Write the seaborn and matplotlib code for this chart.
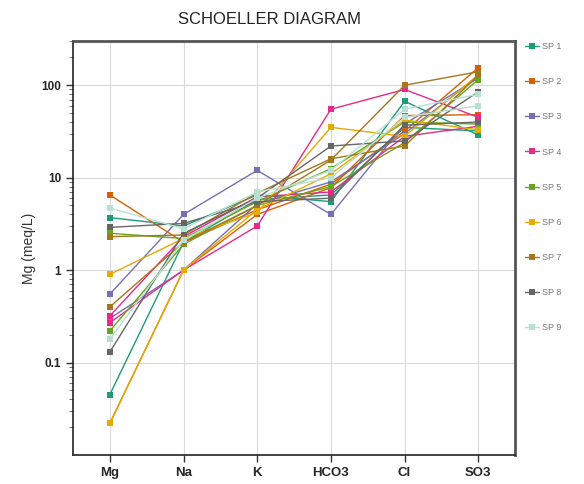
import matplotlib
matplotlib.use("Agg")
import matplotlib.pyplot as plt
import seaborn as sns
import pandas as pd

# ions on the x axis
ions = ["Mg", "Na", "K", "HCO3", "Cl", "SO3"]

# sampling points (two samples per site)
sites = ["SP1", "SP2", "SP3", "SP4", "SP5", "SP6", "SP7", "SP8", "SP9"]

# concentrations (meq/L), first sample of each site
mg_a = [3.7, 6.5, 0.55, 0.27, 2.5, 0.9, 0.4, 0.13, 4.7]
na_a = [3.0, 2.0, 4.0, 1.0, 2.2, 2.2, 2.0, 2.5, 2.8]
k_a = [6.5, 4.5, 12.0, 3.0, 5.5, 4.2, 5.0, 6.0, 7.0]
hco3_a = [5.5, 8.5, 4.0, 55.0, 12.5, 35.0, 15.5, 22.0, 10.0]
cl_a = [67.0, 32.0, 38.0, 90.0, 40.0, 28.0, 100.0, 25.0, 45.0]
so3_a = [29.0, 155.0, 120.0, 45.0, 38.0, 130.0, 140.0, 85.0, 60.0]

# second sample of each site
mg_b = [0.045, 0.022, 0.3, 0.32, 0.22, 0.022, 2.3, 2.9, 0.18]
na_b = [2.0, 1.0, 1.0, 2.3, 1.9, 1.0, 2.4, 3.2, 2.1]
k_b = [5.8, 4.0, 5.2, 6.2, 5.0, 4.5, 6.8, 5.5, 6.0]
hco3_b = [6.5, 7.8, 9.0, 7.0, 8.0, 11.0, 16.0, 6.0, 12.0]
cl_b = [35.0, 47.0, 30.0, 28.0, 24.0, 42.0, 22.0, 37.0, 55.0]
so3_b = [32.0, 48.0, 125.0, 36.0, 115.0, 33.0, 128.0, 40.0, 80.0]

colors = ["#1b9e77", "#d95f02", "#7570b3", "#e7298a", "#66a61e",
          "#e6ab02", "#a6761d", "#666666", "#b8e0d2"]

rows = []
for sample, cols in [("a", [mg_a, na_a, k_a, hco3_a, cl_a, so3_a]),
                     ("b", [mg_b, na_b, k_b, hco3_b, cl_b, so3_b])]:
    for i, site in enumerate(sites):
        for j, ion in enumerate(ions):
            rows.append({"site": site, "sample": sample + site,
                         "pos": j, "value": cols[j][i]})
df = pd.DataFrame(rows)

sns.set_style("whitegrid")
plt.rcParams["font.family"] = ["Liberation Sans", "DejaVu Sans"]

fig = plt.figure(figsize=(5.84, 4.84), dpi=100)
ax = fig.add_axes([0.125, 0.06, 0.757, 0.855])

sns.lineplot(data=df, x="pos", y="value", hue="site", units="sample",
             estimator=None, sort=False, palette=colors, marker="s",
             markersize=5, markeredgewidth=0, linewidth=1.0, ax=ax)

ax.set_yscale("log")
ax.set_ylim(0.01, 300)
ax.set_xlim(-0.5, 5.5)
ax.set_xticks(range(len(ions)))
ax.set_xticklabels(ions, fontsize=9.5, fontweight="bold")
ax.set_yticks([0.1, 1, 10, 100])
ax.set_yticklabels(["0.1", "1", "10", "100"], fontsize=8.5, fontweight="bold")
ax.tick_params(axis="both", which="major", length=5, direction="out",
               left=True, bottom=True, color="#333333", width=1)
ax.tick_params(axis="y", which="minor", length=3, left=True, color="#555555")
ax.grid(True, which="major", color="#d9d9d9", linewidth=0.8)
ax.set_xlabel("")
ax.set_ylabel("Mg (meq/L)", fontsize=10, color="#333333")

for side in ["left", "bottom"]:
    ax.spines[side].set_color("#222222")
    ax.spines[side].set_linewidth(1.2)
for side in ["top", "right"]:
    ax.spines[side].set_color("#555555")
    ax.spines[side].set_linewidth(2.0)

handles, labels = ax.get_legend_handles_labels()
ax.legend_.remove()
fig.legend(handles, [s[:2] + " " + s[2:] for s in labels], loc="upper left",
           bbox_to_anchor=(0.885, 0.93), frameon=False, fontsize=6.5,
           labelspacing=2.9, handlelength=1.6, handletextpad=0.3,
           labelcolor="#777777")

fig.suptitle("SCHOELLER DIAGRAM", x=0.462, y=0.975, fontsize=12,
             color="#222222")

fig.savefig("out.png", dpi=100)
plt.close()
